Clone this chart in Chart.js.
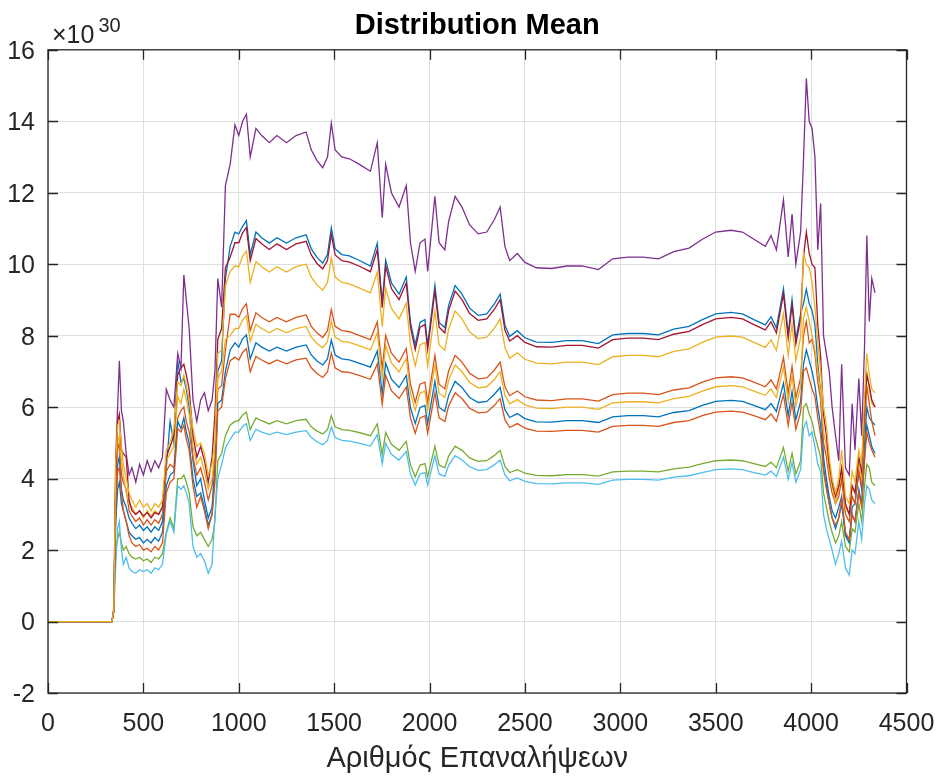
<!DOCTYPE html>
<html>
<head>
<meta charset="utf-8">
<script src="https://cdn.jsdelivr.net/npm/chart.js@4.4.1/dist/chart.umd.min.js"></script>
<style>
  html, body { margin: 0; padding: 0; background: #fff; }
  #chart { display: block; }
</style>
</head>
<body>
<canvas id="chart" width="937" height="778"></canvas>
<script>
const ITER = [
  1, 335, 345, 355, 365, 374, 385, 395, 410, 425,
  440, 460, 480, 500, 520, 540, 560, 580, 600, 620,
  640, 660, 680, 697, 712, 725, 740, 760, 780, 800,
  820, 840, 860, 875, 890, 910, 930, 955, 980, 1000,
  1020, 1040, 1060, 1090, 1120, 1160, 1200, 1250, 1300, 1353,
  1380, 1410, 1440, 1465, 1485, 1505, 1540, 1580, 1630, 1690,
  1726, 1752, 1770, 1800, 1840, 1878, 1900, 1925, 1950, 1976,
  1990, 2028, 2050, 2080, 2100, 2134, 2170, 2210, 2255, 2300,
  2340, 2370, 2395, 2420, 2460, 2500, 2560, 2640, 2720, 2800,
  2885, 2960, 3040, 3120, 3200, 3280, 3360, 3430, 3500, 3580,
  3640, 3700, 3760, 3790, 3818, 3855, 3880, 3900, 3920, 3945,
  3960, 3975, 3990, 4005, 4020, 4035, 4050, 4065, 4080, 4095,
  4110, 4128, 4145, 4160, 4180, 4200, 4215, 4230, 4250, 4265,
  4280, 4292, 4305, 4318, 4335,
];

// Series values, in units of 1e30
const BLUE_1 = [
  0, 0, 0.3, 3.0, 4.4, 4.6, 3.7, 3.4, 3.2, 2.9,
  2.75, 2.6, 2.7, 2.55, 2.65, 2.5, 2.65, 2.55, 2.8, 4.3,
  5.6, 5.0, 7.3, 6.7, 6.8, 6.5, 6.0, 4.5, 3.8, 4.0,
  3.4, 2.9, 3.2, 4.4, 7.0, 7.3, 9.6, 10.5, 10.9, 10.85,
  11.06, 11.22, 10.27, 10.9, 10.74, 10.59, 10.74, 10.59, 10.74, 10.82,
  10.43, 10.19, 10.03, 10.27, 11.02, 10.43, 10.27, 10.23, 10.11, 9.95,
  10.59, 8.93, 10.11, 9.48, 9.16, 9.64, 8.37, 7.74, 8.37, 8.45,
  7.74, 9.40, 8.37, 8.22, 8.85, 9.40, 9.16, 8.77, 8.57, 8.61,
  8.89, 9.16, 8.30, 7.98, 8.14, 7.94, 7.82, 7.81, 7.86, 7.86,
  7.78, 8.02, 8.06, 8.06, 8.02, 8.18, 8.26, 8.45, 8.61, 8.65,
  8.61, 8.45, 8.30, 8.53, 8.22, 9.32, 8.06, 9.01, 7.90, 8.61,
  8.9, 9.3, 8.9, 8.7, 8.3, 7.2, 6.4, 4.6, 4.0, 3.5,
  3.1, 2.9, 3.2, 3.5, 2.4, 2.2, 3.2, 3.3, 4.2, 3.7,
  5.0, 6.0, 5.7, 5.6, 5.5,
];
const ORANGE_1 = [
  0, 0, 0.3, 3.8, 4.8, 5.0, 4.1, 3.9, 3.7, 3.1,
  2.95, 2.8, 2.9, 2.7, 2.85, 2.7, 2.85, 2.75, 3.0, 4.2,
  4.4, 4.3, 5.7, 5.9, 6.0, 5.6, 5.3, 4.6, 4.1, 4.3,
  3.9, 3.4, 3.8, 4.6, 6.5, 6.6, 7.6, 8.6, 8.6, 8.51,
  8.76, 8.89, 8.14, 8.64, 8.51, 8.39, 8.51, 8.39, 8.51, 8.58,
  8.26, 8.08, 7.95, 8.14, 8.73, 8.26, 8.14, 8.11, 8.01, 7.89,
  8.39, 7.07, 8.01, 7.51, 7.26, 7.64, 6.64, 6.13, 6.64, 6.70,
  6.13, 7.45, 6.64, 6.51, 7.01, 7.45, 7.26, 6.95, 6.79, 6.82,
  7.04, 7.26, 6.57, 6.32, 6.45, 6.29, 6.20, 6.18, 6.23, 6.23,
  6.17, 6.35, 6.39, 6.39, 6.35, 6.48, 6.54, 6.70, 6.82, 6.85,
  6.82, 6.70, 6.57, 6.76, 6.51, 7.39, 6.39, 7.14, 6.26, 6.82,
  8.0, 8.4, 7.8, 7.9, 7.5, 6.7, 6.2, 5.0, 4.6, 4.0,
  3.6, 3.3, 3.5, 4.0, 3.0, 2.8, 3.5, 3.3, 4.2, 3.8,
  5.4, 6.6, 6.1, 5.6, 5.2,
];
const YELLOW_2 = [
  0, 0, 0.3, 4.2, 5.0, 5.2, 4.5, 4.1, 3.6, 3.3,
  3.2, 3.0, 3.1, 2.9, 3.1, 2.95, 3.1, 3.0, 3.25, 4.5,
  4.7, 4.9, 6.3, 6.1, 6.5, 6.2, 5.8, 4.9, 4.4, 4.6,
  4.2, 3.7, 4.0, 4.8, 6.8, 7.0, 7.9, 8.0, 8.2, 8.20,
  8.44, 8.56, 7.84, 8.32, 8.20, 8.08, 8.20, 8.08, 8.20, 8.26,
  7.96, 7.78, 7.66, 7.84, 8.41, 7.96, 7.84, 7.81, 7.72, 7.60,
  8.08, 6.81, 7.72, 7.24, 6.99, 7.36, 6.39, 5.91, 6.39, 6.45,
  5.91, 7.18, 6.39, 6.27, 6.75, 7.18, 6.99, 6.69, 6.54, 6.57,
  6.78, 6.99, 6.33, 6.09, 6.21, 6.06, 5.97, 5.96, 6.00, 6.00,
  5.94, 6.12, 6.15, 6.15, 6.12, 6.24, 6.30, 6.45, 6.57, 6.60,
  6.57, 6.45, 6.33, 6.51, 6.27, 7.12, 6.15, 6.87, 6.03, 6.57,
  8.5, 8.8, 8.4, 8.0, 7.6, 7.0, 6.4, 5.3, 4.9, 4.2,
  3.8, 3.3, 3.7, 4.3, 3.2, 3.0, 3.8, 3.6, 4.5, 4.0,
  5.7, 7.0, 6.5, 6.1, 6.0,
];
const PURPLE = [
  0, 0, 0.4, 4.6, 6.0, 7.3, 5.9, 5.6, 4.7, 4.1,
  4.3, 3.9, 4.4, 4.1, 4.5, 4.2, 4.5, 4.3, 4.6, 6.5,
  6.2, 6.0, 7.5, 7.1, 9.7, 9.0, 8.2, 6.2, 5.6, 6.2,
  6.4, 5.9, 6.2, 7.0, 9.6, 8.8, 12.2, 12.8, 13.9, 13.6,
  14.0, 14.2, 13.0, 13.8, 13.6, 13.4, 13.6, 13.4, 13.6, 13.7,
  13.2, 12.9, 12.7, 13.0, 13.95, 13.2, 13.0, 12.95, 12.8, 12.6,
  13.4, 11.3, 12.8, 12.0, 11.6, 12.2, 10.6, 9.8, 10.6, 10.7,
  9.8, 11.9, 10.6, 10.4, 11.2, 11.9, 11.6, 11.1, 10.85, 10.9,
  11.25, 11.6, 10.5, 10.1, 10.3, 10.05, 9.9, 9.88, 9.95, 9.95,
  9.85, 10.15, 10.2, 10.2, 10.15, 10.35, 10.45, 10.7, 10.9, 10.95,
  10.9, 10.7, 10.5, 10.8, 10.4, 11.8, 10.2, 11.4, 10.0, 10.9,
  12.9, 15.2, 14.0, 13.8, 13.0, 10.4, 11.7, 8.0, 7.5, 7.0,
  6.0, 5.2, 4.5, 7.2, 4.3, 4.1, 6.1, 4.8, 6.8, 5.2,
  7.7, 10.8, 8.4, 9.6, 9.2,
];
const GREEN = [
  0, 0, 0.3, 2.0, 2.3, 2.5, 2.2, 2.0, 2.1, 1.9,
  1.8, 1.75, 1.8, 1.7, 1.75, 1.65, 1.8, 1.75, 1.9, 2.5,
  2.9, 2.6, 4.0, 4.0, 4.1, 3.9, 3.6, 2.65, 2.4, 2.5,
  2.3, 2.1, 2.3, 2.8, 4.5, 4.7, 5.2, 5.5, 5.6, 5.62,
  5.78, 5.86, 5.37, 5.70, 5.62, 5.53, 5.62, 5.53, 5.62, 5.66,
  5.45, 5.33, 5.25, 5.37, 5.76, 5.45, 5.37, 5.35, 5.29, 5.20,
  5.53, 4.67, 5.29, 4.96, 4.79, 5.04, 4.38, 4.05, 4.38, 4.42,
  4.05, 4.91, 4.38, 4.30, 4.63, 4.91, 4.79, 4.58, 4.48, 4.50,
  4.65, 4.79, 4.34, 4.17, 4.25, 4.15, 4.09, 4.08, 4.11, 4.11,
  4.07, 4.19, 4.21, 4.21, 4.19, 4.27, 4.32, 4.42, 4.50, 4.52,
  4.50, 4.42, 4.34, 4.46, 4.30, 4.87, 4.21, 4.71, 4.13, 4.50,
  6.0, 6.1, 5.8, 5.6, 5.2, 4.9, 4.6, 3.6, 3.2, 2.8,
  2.5, 2.2, 2.4, 2.8, 2.1, 1.95, 2.6, 2.5, 3.3, 2.8,
  3.8, 4.4, 4.3, 3.9, 3.8,
];
const LIGHT_BLUE = [
  0, 0, 0.3, 1.6, 2.6, 2.8, 2.0, 1.6, 1.8, 1.5,
  1.4, 1.35, 1.45, 1.4, 1.45, 1.35, 1.5, 1.45, 1.6, 2.45,
  2.8, 2.5, 3.8, 3.7, 3.8, 3.6, 3.3, 2.1, 1.8, 1.9,
  1.7, 1.35, 1.6, 3.0, 4.0, 4.4, 4.85, 5.1, 5.3, 5.30,
  5.46, 5.54, 5.07, 5.38, 5.30, 5.23, 5.30, 5.23, 5.30, 5.34,
  5.15, 5.03, 4.95, 5.07, 5.44, 5.15, 5.07, 5.05, 4.99, 4.91,
  5.23, 4.41, 4.99, 4.68, 4.52, 4.76, 4.13, 3.82, 4.13, 4.17,
  3.82, 4.64, 4.13, 4.06, 4.37, 4.64, 4.52, 4.33, 4.23, 4.25,
  4.39, 4.52, 4.10, 3.94, 4.02, 3.92, 3.86, 3.85, 3.88, 3.88,
  3.84, 3.96, 3.98, 3.98, 3.96, 4.04, 4.08, 4.17, 4.25, 4.27,
  4.25, 4.17, 4.10, 4.21, 4.06, 4.60, 3.98, 4.45, 3.90, 4.25,
  5.4, 5.6, 5.2, 5.3, 4.9, 4.4, 4.2, 3.0, 2.6, 2.3,
  2.0, 1.6, 1.9, 2.25, 1.5, 1.3, 2.0, 1.9, 2.8, 2.3,
  3.3, 3.8, 3.7, 3.4, 3.3,
];
const DARK_RED = [
  0, 0, 0.3, 4.0, 5.6, 5.8, 4.8, 4.7, 4.6, 3.4,
  3.1, 3.0, 3.1, 2.95, 3.05, 2.9, 3.05, 3.0, 3.2, 4.6,
  4.9, 5.2, 6.9, 7.1, 7.2, 6.9, 6.5, 5.2, 4.6, 4.9,
  4.5, 3.9, 4.6, 5.8, 7.9, 8.2, 9.9, 10.2, 10.6, 10.6,
  10.88, 11.03, 10.10, 10.72, 10.57, 10.41, 10.57, 10.41, 10.57, 10.64,
  10.26, 10.02, 9.87, 10.10, 10.84, 10.26, 10.10, 10.06, 9.95, 9.79,
  10.41, 8.78, 9.95, 9.32, 9.01, 9.48, 8.24, 7.61, 8.24, 8.31,
  7.61, 9.25, 8.24, 8.08, 8.70, 9.25, 9.01, 8.62, 8.43, 8.47,
  8.74, 9.01, 8.16, 7.85, 8.00, 7.81, 7.69, 7.68, 7.73, 7.73,
  7.65, 7.89, 7.93, 7.93, 7.89, 8.04, 8.12, 8.31, 8.47, 8.51,
  8.47, 8.31, 8.16, 8.39, 8.08, 9.17, 7.93, 8.86, 7.77, 8.47,
  10.2, 10.9, 10.3, 10.0, 9.9, 8.3, 7.4, 5.8, 5.2, 4.4,
  3.9, 3.5, 3.8, 4.3, 3.3, 3.0, 3.8, 3.6, 4.6, 4.2,
  5.9, 6.9, 6.6, 6.2, 6.0,
];
const BLUE_2 = [
  0, 0, 0.3, 2.8, 3.7, 3.9, 3.3, 3.1, 2.8, 2.5,
  2.4, 2.3, 2.35, 2.2, 2.3, 2.2, 2.35, 2.25, 2.5, 3.8,
  4.1, 4.2, 5.6, 5.4, 5.7, 5.3, 5.0, 4.0, 3.5, 3.6,
  3.2, 2.7, 3.0, 4.1, 6.1, 6.2, 7.0, 7.6, 7.8, 7.68,
  7.91, 8.02, 7.35, 7.80, 7.68, 7.57, 7.68, 7.57, 7.68, 7.74,
  7.46, 7.29, 7.18, 7.35, 7.88, 7.46, 7.35, 7.32, 7.23, 7.12,
  7.57, 6.38, 7.23, 6.78, 6.55, 6.89, 5.99, 5.54, 5.99, 6.05,
  5.54, 6.72, 5.99, 5.88, 6.33, 6.72, 6.55, 6.27, 6.13, 6.16,
  6.36, 6.55, 5.93, 5.71, 5.82, 5.68, 5.59, 5.58, 5.62, 5.62,
  5.57, 5.73, 5.76, 5.76, 5.73, 5.85, 5.90, 6.05, 6.16, 6.19,
  6.16, 6.05, 5.93, 6.10, 5.88, 6.67, 5.76, 6.44, 5.65, 6.16,
  7.2, 7.6, 7.3, 7.0, 6.6, 6.0, 5.5, 4.3, 3.8, 3.3,
  2.9, 2.6, 2.9, 3.3, 2.4, 2.3, 3.0, 2.8, 3.7, 3.3,
  4.6, 5.5, 5.2, 4.9, 4.7,
];
const ORANGE_2 = [
  0, 0, 0.3, 3.2, 4.2, 4.3, 3.6, 3.1, 2.8, 2.4,
  2.2, 2.1, 2.15, 2.0, 2.05, 1.95, 2.1, 2.0, 2.2, 3.6,
  3.9, 4.0, 5.4, 5.3, 5.5, 5.1, 4.8, 3.8, 3.2, 3.5,
  3.1, 2.6, 3.0, 3.9, 5.9, 6.0, 6.8, 7.3, 7.4, 7.32,
  7.53, 7.64, 6.99, 7.42, 7.32, 7.21, 7.32, 7.21, 7.32, 7.37,
  7.10, 6.94, 6.83, 6.99, 7.51, 7.10, 6.99, 6.97, 6.89, 6.78,
  7.21, 6.08, 6.89, 6.46, 6.24, 6.56, 5.70, 5.27, 5.70, 5.76,
  5.27, 6.40, 5.70, 5.60, 6.03, 6.40, 6.24, 5.97, 5.84, 5.86,
  6.05, 6.24, 5.65, 5.43, 5.54, 5.41, 5.33, 5.32, 5.35, 5.35,
  5.30, 5.46, 5.49, 5.49, 5.46, 5.57, 5.62, 5.76, 5.86, 5.89,
  5.86, 5.76, 5.65, 5.81, 5.60, 6.35, 5.49, 6.13, 5.38, 5.86,
  7.0, 7.1, 6.8, 6.5, 6.3, 5.7, 5.2, 4.2, 3.7, 3.3,
  2.9, 2.7, 2.9, 3.4, 2.5, 2.3, 3.0, 2.8, 3.6, 3.2,
  4.5, 5.3, 5.0, 4.8, 4.6,
];
const YELLOW_1 = [
  0, 0, 0.3, 4.5, 5.5, 5.6, 4.9, 4.4, 4.0, 3.6,
  3.4, 3.2, 3.4, 3.2, 3.3, 3.1, 3.3, 3.2, 3.4, 4.8,
  5.0, 5.4, 6.7, 6.6, 6.9, 6.6, 6.2, 5.4, 4.9, 5.0,
  4.7, 4.1, 4.4, 5.1, 7.5, 7.6, 9.4, 9.8, 9.95, 9.93,
  10.22, 10.37, 9.49, 10.07, 9.93, 9.78, 9.93, 9.78, 9.93, 10.00,
  9.64, 9.42, 9.27, 9.49, 10.18, 9.64, 9.49, 9.45, 9.34, 9.20,
  9.78, 8.25, 9.34, 8.76, 8.47, 8.91, 7.74, 7.15, 7.74, 7.81,
  7.15, 8.69, 7.74, 7.59, 8.18, 8.69, 8.47, 8.10, 7.92, 7.96,
  8.21, 8.47, 7.67, 7.37, 7.52, 7.34, 7.23, 7.21, 7.26, 7.26,
  7.19, 7.41, 7.45, 7.45, 7.41, 7.56, 7.63, 7.81, 7.96, 7.99,
  7.96, 7.81, 7.67, 7.88, 7.59, 8.61, 7.45, 8.32, 7.30, 7.96,
  10.3, 10.0, 9.9, 9.5, 8.8, 7.8, 7.0, 6.0, 5.5, 4.6,
  4.0, 3.6, 4.0, 4.8, 3.5, 3.3, 4.2, 3.9, 4.8, 4.4,
  6.3, 7.5, 6.9, 6.5, 6.4,
];

const Y_TICKS = [-2, 0, 2, 4, 6, 8, 10, 12, 14, 16];
const X_TICKS = [0, 500, 1000, 1500, 2000, 2500, 3000, 3500, 4000, 4500];

// MATLAB plot order and default line colours
const SERIES = [
  { values: BLUE_1,     color: '#0072BD' },
  { values: ORANGE_1,   color: '#D95319' },
  { values: YELLOW_2,   color: '#EDB120' },
  { values: PURPLE,     color: '#7E2F8E' },
  { values: GREEN,      color: '#77AC30' },
  { values: LIGHT_BLUE, color: '#4DBEEE' },
  { values: DARK_RED,   color: '#A2142F' },
  { values: BLUE_2,     color: '#0072BD' },
  { values: ORANGE_2,   color: '#D95319' },
  { values: YELLOW_1,   color: '#EDB120' },
];

const FONT = "'Liberation Sans', Arial, Helvetica, sans-serif";
const AXIS_COLOR = '#262626';

// box around the axes with inward ticks on all four sides, plus the x10^30 multiplier
const matlabAxes = {
  id: 'matlabAxes',
  afterDatasetsDraw(chart) {
    const { ctx, chartArea: a, scales: { x, y } } = chart;
    const len = 10;
    ctx.save();
    ctx.strokeStyle = AXIS_COLOR;
    ctx.lineWidth = 1.3;
    ctx.strokeRect(a.left, a.top, a.right - a.left, a.bottom - a.top);
    ctx.beginPath();
    X_TICKS.forEach(v => {
      const px = Math.round(x.getPixelForValue(v)) + 0.5;
      ctx.moveTo(px, a.bottom); ctx.lineTo(px, a.bottom - len);
      ctx.moveTo(px, a.top);    ctx.lineTo(px, a.top + len);
    });
    Y_TICKS.forEach(v => {
      const py = Math.round(y.getPixelForValue(v)) + 0.5;
      ctx.moveTo(a.left, py);  ctx.lineTo(a.left + len, py);
      ctx.moveTo(a.right, py); ctx.lineTo(a.right - len, py);
    });
    ctx.stroke();
    ctx.restore();
  },
  afterDraw(chart) {
    const { ctx, chartArea: a } = chart;
    ctx.save();
    ctx.fillStyle = AXIS_COLOR;
    ctx.textBaseline = 'alphabetic';
    ctx.font = `25px ${FONT}`;
    const base = '\u00D710';
    ctx.fillText(base, a.left + 4, a.top - 7);
    const w = ctx.measureText(base).width;
    ctx.font = `20px ${FONT}`;
    ctx.fillText('30', a.left + 4 + w + 4, a.top - 18);
    ctx.restore();
  },
};

new Chart(document.getElementById('chart'), {
  type: 'line',
  data: {
    datasets: SERIES.map((s, i) => ({
      data: ITER.map((it, j) => ({ x: it, y: s.values[j] })),
      borderColor: s.color,
      borderWidth: 1.3,
      pointRadius: 0,
      tension: 0,
      order: SERIES.length - i,
    })),
  },
  options: {
    responsive: false,
    animation: false,
    events: [],
    layout: { padding: { top: 0, right: 30.5, left: 0, bottom: 0 } },
    plugins: {
      legend: { display: false },
      tooltip: { enabled: false },
      title: {
        display: true,
        text: 'Distribution Mean',
        color: '#000',
        fullSize: false,
        font: { family: FONT, size: 29, weight: 'bold' },
        padding: { top: 9, bottom: 6 },
      },
    },
    scales: {
      x: {
        type: 'linear',
        min: 0, max: 4500,
        afterFit: s => { s.height = 85; s.paddingLeft = 0; s.paddingRight = 0; },
        afterBuildTicks: s => { s.ticks = X_TICKS.map(v => ({ value: v })); },
        ticks: {
          color: AXIS_COLOR, padding: 16, maxRotation: 0, autoSkip: false,
          font: { family: FONT, size: 25 },
          callback: v => String(v),
        },
        grid: { color: '#dfdfdf', lineWidth: 1, drawTicks: false },
        border: { display: false },
        title: {
          display: true,
          text: 'Αριθμός Επαναλήψεων',
          color: AXIS_COLOR,
          font: { family: FONT, size: 29 },
          padding: { top: 0, bottom: 2 },
        },
      },
      y: {
        type: 'linear',
        min: -2, max: 16,
        afterFit: s => { s.width = 48; s.paddingTop = 0; s.paddingBottom = 0; },
        afterBuildTicks: s => { s.ticks = Y_TICKS.map(v => ({ value: v })); },
        ticks: {
          color: AXIS_COLOR, padding: 13, autoSkip: false, labelOffset: 2,
          font: { family: FONT, size: 25 },
          callback: v => String(v),
        },
        grid: { color: '#dfdfdf', lineWidth: 1, drawTicks: false },
        border: { display: false },
      },
    },
  },
  plugins: [matlabAxes],
});
</script>
</body>
</html>
